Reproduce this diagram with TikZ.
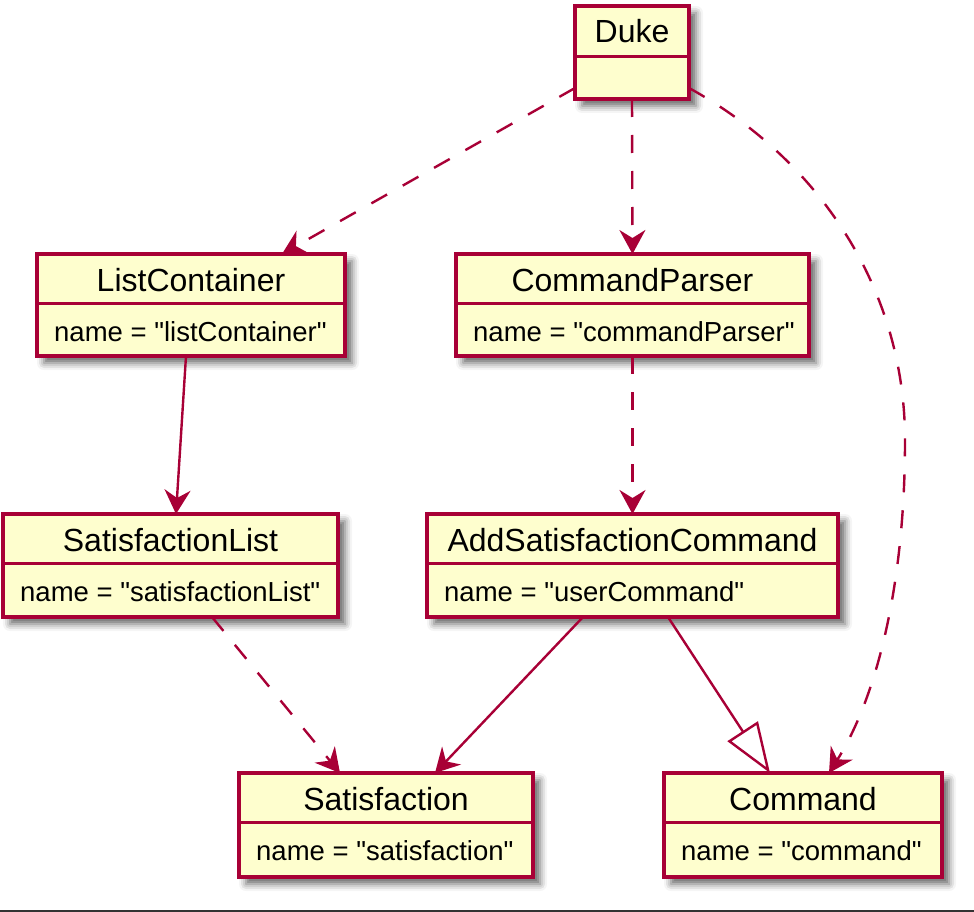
\documentclass[tikz,border=0pt]{standalone}
\usepackage{fontspec}
\setmainfont{Liberation Sans}[Ligatures=TeXOff]
\usetikzlibrary{arrows.meta,shadows.blur,calc}
\definecolor{umlborder}{HTML}{A80036}
\definecolor{umlfill}{HTML}{FEFECE}
\tikzset{
  classbox/.style={rectangle, draw=umlborder, fill=umlfill, line width=3.4pt,
    inner sep=0pt, outer sep=0pt,
    blur shadow={shadow xshift=7pt, shadow yshift=-7pt, shadow blur radius=7pt, shadow opacity=60}},
  sepline/.style={draw=umlborder, line width=3pt},
  titletext/.style={inner sep=0pt, font=\fontsize{32}{38}\selectfont},
  attrtext/.style={inner sep=0pt, font=\fontsize{27.5}{33}\selectfont},
  conn/.style={draw=umlborder, line width=2.4pt},
  tipstyle/.style={-{Stealth[length=24pt,width=26pt,inset=8pt]}},
  depline/.style={conn, dash pattern=on 18pt off 18pt, tipstyle},
  assoc/.style={conn, tipstyle},
  gen/.style={conn, -{Triangle[open,length=50pt,width=36pt,fill=white]}},
}
\newcommand{\umlclass}[8]{%
  \node[classbox, minimum width={#4pt-#2pt}, minimum height={#5pt-#3pt}] (#1) at ({(#2+#4)/2},{(#3+#5)/2}) {};
  \draw[sepline] ({#2+1.7},#6) -- ({#4-1.7},#6);
  \node[titletext, anchor=base] (#1-t) at ({(#2+#4)/2},{#3+37}) {#7};
  \node[attrtext, anchor=base west] (#1-a) at ({#2+17},{#6+38}) {#8};
}
\begin{document}
\begin{tikzpicture}[x=1pt,y=-1pt]
\useasboundingbox (0,0) rectangle (974,912);
\umlclass{duke}{575}{6}{689}{99}{57}{Duke}{}
\umlclass{lc}{37}{254}{345}{356}{303}{ListContainer}{name = "listContainer"}
\umlclass{cp}{456}{254}{809}{356}{303}{CommandParser}{name = "commandParser"}
\umlclass{sl}{3}{514}{338}{617}{563}{SatisfactionList}{name = "satisfactionList"}
\umlclass{as}{427}{514}{838}{617}{563}{AddSatisfactionCommand}{name = "userCommand"}
\umlclass{sat}{239}{773}{533}{877}{822}{Satisfaction}{name = "satisfaction"}
\umlclass{cmd}{664}{773}{942}{877}{822}{Command}{name = "command"}
% connectors
\draw[depline] ([yshift=11pt]duke.south west) -- ([xshift=245pt]lc.north west);
\draw[depline] (duke.south) -- (cp.north);
\draw[depline] ([yshift=11pt]duke.south east) .. controls (820,160) and (905,290) .. (905,440)
   .. controls (905,590) and (875,700) .. ([xshift=165pt]cmd.north west);
\draw[assoc] ([xshift=149pt]lc.south west) -- ([xshift=173pt]sl.north west);
\draw[depline] (cp.south) -- (as.north);
\draw[depline] ([xshift=209pt]sl.south west) -- ([xshift=101pt]sat.north west);
\draw[assoc] ([xshift=156pt]as.south west) -- ([xshift=196pt]sat.north west);
\draw[gen] ([xshift=241pt]as.south west) -- ([xshift=106pt]cmd.north west);
% bottom rule
\draw[line width=1.6pt, black!80] (0,911) -- (974,911);
\end{tikzpicture}
\end{document}
